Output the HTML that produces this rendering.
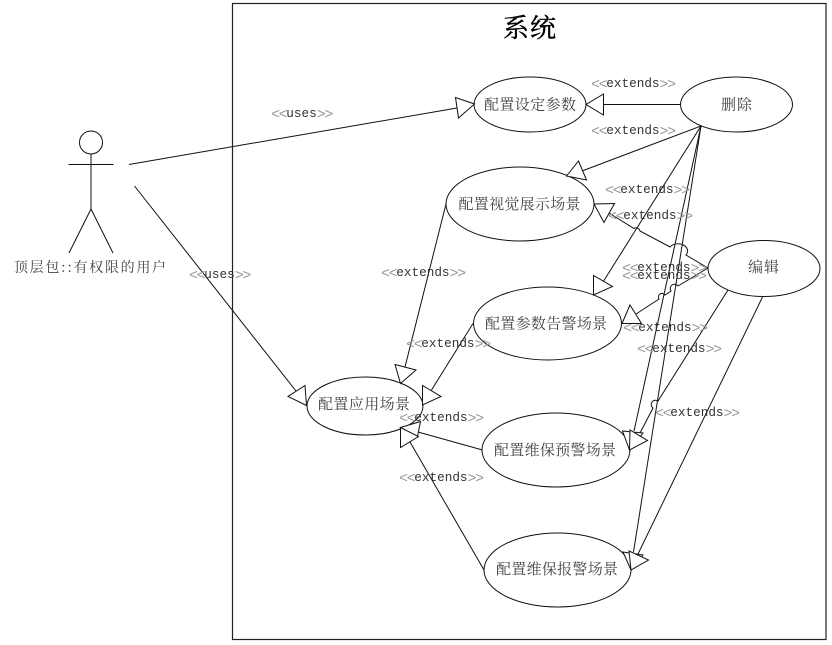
<!DOCTYPE html>
<html><head><meta charset="utf-8"><style>
html,body{margin:0;padding:0;background:#fff}
svg{display:block}
.l{fill:none;stroke:#111;stroke-width:1}
.t{fill:#fff;stroke:#111;stroke-width:1}
.e{fill:#fff;stroke:#111;stroke-width:1}
.z{font-family:"Noto Serif CJK SC",serif;font-size:15px;fill:#444}
.x{font-family:"Liberation Mono",monospace;font-size:12.7px;fill:#333}
.x .c{fill:#999;font-size:15px;letter-spacing:-1.38px}
</style></head><body>
<svg width="832" height="645" viewBox="0 0 832 645" xmlns="http://www.w3.org/2000/svg">
<rect width="832" height="645" fill="#fff"/>
<rect x="232.5" y="3.5" width="593.5" height="636" fill="none" stroke="#222" stroke-width="1.2"/>

<!-- actor -->
<circle class="l" cx="91" cy="142.5" r="11.5"/>
<path class="l" d="M91 154V209M68.5 164.5H113.5M91 209L69 253M91 209L113 253"/>

<!-- connectors -->
<path class="l" d="M129 164.5L457 108"/>
<path class="l" d="M134.5 186L296 391"/>
<path class="l" d="M680.5 104.5H603.5"/>
<path class="l" d="M701 126L582 171"/>
<path class="l" d="M701 126L603 282"/>
<path class="l" d="M701 126L634 431"/>
<path class="l" d="M701 126L633.5 552"/>
<path class="l" d="M609 213L634 228.5A4 4 0 0 1 640 231L670 247A8 6 0 0 1 686 255L708 268"/>
<path class="l" d="M636 314L659 299A3.5 3.5 0 0 1 665 295L671 291A3.5 3.5 0 0 1 678 286L708 268"/>
<path class="l" d="M728 290L658 401A3.5 3.5 0 0 0 653 408L639 435"/>
<path class="l" d="M763 296L638 554"/>
<path class="l" d="M446 204L405 367"/>
<path class="l" d="M473 323.5L431.5 390"/>
<path class="l" d="M482.5 450L418 432"/>
<path class="l" d="M484 570L410 442"/>

<!-- ellipses -->
<ellipse class="e" cx="530" cy="104.5" rx="56" ry="27.5"/>
<ellipse class="e" cx="736.5" cy="104.5" rx="56" ry="27.5"/>
<ellipse class="e" cx="520" cy="204" rx="74" ry="37"/>
<ellipse class="e" cx="547.5" cy="323.5" rx="74" ry="36.5"/>
<ellipse class="e" cx="365" cy="406" rx="58" ry="29"/>
<ellipse class="e" cx="556" cy="450" rx="74" ry="37"/>
<ellipse class="e" cx="557.5" cy="570" rx="73.5" ry="37"/>
<ellipse class="e" cx="764" cy="268.5" rx="56" ry="28"/>

<!-- arrowheads -->
<polygon class="t" points="474.5,104 455.5,97.5 458.5,118"/>
<polygon class="t" points="306.5,405.5 305,385.5 288,396.5"/>
<polygon class="t" points="586,104.5 603.5,94 603.5,115"/>
<polygon class="t" points="566.5,176 578.5,161 586.5,180"/>
<polygon class="t" points="593.5,295 593.5,275.5 612.5,286.5"/>
<polygon class="t" points="594,204 614.5,203.5 604,222.5"/>
<polygon class="t" points="622,323.5 641.5,323.5 630,305"/>
<polygon class="t" points="629.5,450 622.5,431 643,433"/>
<polygon class="t" points="629.5,450 630,430 647.5,440.5"/>
<polygon class="t" points="631,570 623,552 643,555"/>
<polygon class="t" points="631,570 629,551 648.5,560"/>
<polygon class="t" points="400.5,383.5 395,364.5 416,370"/>
<polygon class="t" points="422.5,405 422.5,385.5 441,396.5"/>
<polygon class="t" points="400.5,427.5 420.5,421.5 417.5,436.5"/>
<polygon class="t" points="400.5,427.5 400.5,447.5 418.5,436.5"/>

<!-- labels -->
<text x="503" y="37" font-family="'Noto Serif CJK SC',serif" font-size="26" fill="#000" stroke="#000" stroke-width="0.4" textLength="53">系统</text>
<text class="z" x="14" y="272" textLength="152" style="font-size:14px">顶层包::有权限的用户</text>
<text class="z" x="484" y="109.5" textLength="92">配置设定参数</text>
<text class="z" x="721" y="109.5" textLength="31">删除</text>
<text class="z" x="458.5" y="209" textLength="122">配置视觉展示场景</text>
<text class="z" x="485" y="328.5" textLength="122">配置参数告警场景</text>
<text class="z" x="318" y="409" textLength="92">配置应用场景</text>
<text class="z" x="494" y="455" textLength="122">配置维保预警场景</text>
<text class="z" x="496" y="574" textLength="122">配置维保报警场景</text>
<text class="z" x="748" y="272" textLength="31">编辑</text>

<text class="x" x="271" y="117"><tspan class="c" dy="1.5">&lt;&lt;</tspan><tspan dy="-1.5">uses</tspan><tspan class="c" dy="1.5">&gt;&gt;</tspan></text>
<text class="x" x="189" y="278"><tspan class="c" dy="1.5">&lt;&lt;</tspan><tspan dy="-1.5">uses</tspan><tspan class="c" dy="1.5">&gt;&gt;</tspan></text>
<text class="x" x="591" y="87"><tspan class="c" dy="1.5">&lt;&lt;</tspan><tspan dy="-1.5">extends</tspan><tspan class="c" dy="1.5">&gt;&gt;</tspan></text>
<text class="x" x="591" y="134"><tspan class="c" dy="1.5">&lt;&lt;</tspan><tspan dy="-1.5">extends</tspan><tspan class="c" dy="1.5">&gt;&gt;</tspan></text>
<text class="x" x="605" y="193"><tspan class="c" dy="1.5">&lt;&lt;</tspan><tspan dy="-1.5">extends</tspan><tspan class="c" dy="1.5">&gt;&gt;</tspan></text>
<text class="x" x="608" y="219"><tspan class="c" dy="1.5">&lt;&lt;</tspan><tspan dy="-1.5">extends</tspan><tspan class="c" dy="1.5">&gt;&gt;</tspan></text>
<text class="x" x="622" y="271"><tspan class="c" dy="1.5">&lt;&lt;</tspan><tspan dy="-1.5">extends</tspan><tspan class="c" dy="1.5">&gt;&gt;</tspan></text>
<text class="x" x="622" y="279"><tspan class="c" dy="1.5">&lt;&lt;</tspan><tspan dy="-1.5">extends</tspan><tspan class="c" dy="1.5">&gt;&gt;</tspan></text>
<text class="x" x="623" y="331"><tspan class="c" dy="1.5">&lt;&lt;</tspan><tspan dy="-1.5">extends</tspan><tspan class="c" dy="1.5">&gt;&gt;</tspan></text>
<text class="x" x="637" y="352"><tspan class="c" dy="1.5">&lt;&lt;</tspan><tspan dy="-1.5">extends</tspan><tspan class="c" dy="1.5">&gt;&gt;</tspan></text>
<text class="x" x="655" y="416"><tspan class="c" dy="1.5">&lt;&lt;</tspan><tspan dy="-1.5">extends</tspan><tspan class="c" dy="1.5">&gt;&gt;</tspan></text>
<text class="x" x="406" y="347"><tspan class="c" dy="1.5">&lt;&lt;</tspan><tspan dy="-1.5">extends</tspan><tspan class="c" dy="1.5">&gt;&gt;</tspan></text>
<text class="x" x="381" y="276"><tspan class="c" dy="1.5">&lt;&lt;</tspan><tspan dy="-1.5">extends</tspan><tspan class="c" dy="1.5">&gt;&gt;</tspan></text>
<text class="x" x="399" y="421"><tspan class="c" dy="1.5">&lt;&lt;</tspan><tspan dy="-1.5">extends</tspan><tspan class="c" dy="1.5">&gt;&gt;</tspan></text>
<text class="x" x="399" y="481"><tspan class="c" dy="1.5">&lt;&lt;</tspan><tspan dy="-1.5">extends</tspan><tspan class="c" dy="1.5">&gt;&gt;</tspan></text>
</svg>
</body></html>
